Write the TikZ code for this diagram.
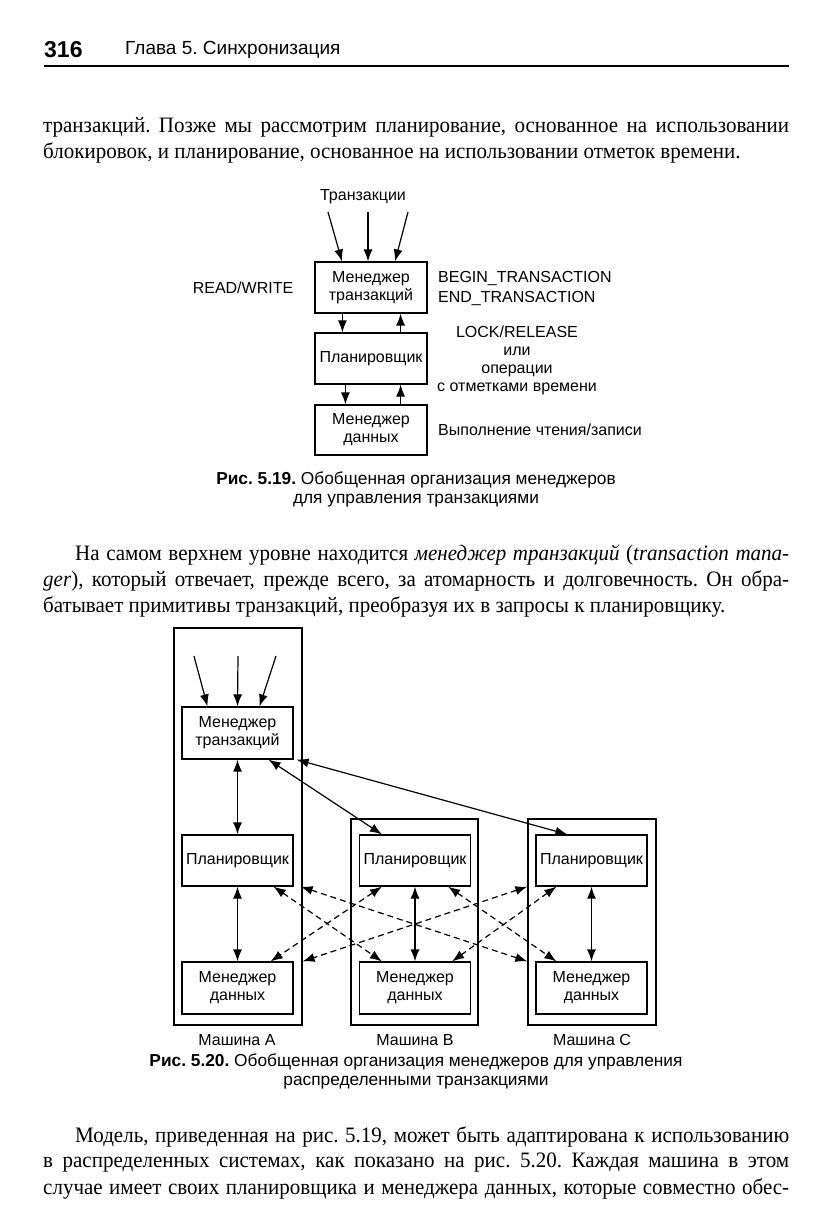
\documentclass[tikz,border=0pt]{standalone}
\usepackage{fontspec}
\setmainfont[FakeStretch=0.955]{Liberation Serif}
\newfontfamily\sansf{Liberation Sans}
\usetikzlibrary{arrows.meta}
\frenchspacing

\begin{document}
\begin{tikzpicture}[x=1pt,y=-1pt]
        \tikzstyle{every node}=[inner sep=0pt]
        \tikzstyle{body}=[anchor=west, font=\fontsize{22}{26}\selectfont]
        \tikzstyle{lbl}=[font=\sansf\fontsize{16}{18}\selectfont, align=center]
        \tikzstyle{figcap}=[font=\sansf\fontsize{17.3}{19}\selectfont, align=center]
        \tikzstyle{box}=[draw, line width=1.2pt, lbl, minimum width=111pt, minimum height=51pt]
        \tikzstyle{machine}=[draw, line width=2.3pt, minimum width=128pt]
        \tikzstyle{arr}=[line width=1.2pt, -{Latex[length=12pt,width=9pt]}]
        \tikzstyle{both}=[line width=1.2pt, {Latex[length=12pt,width=9pt]}-{Latex[length=12pt,width=9pt]}]
        \tikzstyle{dboth}=[both, dash pattern=on 6pt off 4pt]
        \useasboundingbox (0,0) rectangle (834,1229);
        % page head
        \node[anchor=west, font=\sansf\bfseries\fontsize{23}{23}\selectfont] (pg) at (44,50) {316};
        \node[anchor=west, font=\sansf\fontsize{19}{19}\selectfont] (hd) at (125,50) {Глава 5. Синхронизация};
        \draw[line width=1.6pt] (44,66) -- (789,66);
        % text
        \node[body] (t1) at (43,127) {\makebox[746pt][s]{транзакций. Позже мы рассмотрим планирование, основанное на использовании}};
        \node[body] (t2) at (43,153) {блокировок, и планирование, основанное на использовании отметок времени.};
        % fig 5.19
        \node[lbl] (tr) at (363,197) {Транзакции};
        \node[box, minimum width=112pt] (tm) at (371,287.5) {Менеджер\\транзакций};
        \node[box, minimum width=112pt] (sc) at (371,358.5) {Планировщик};
        \node[box, minimum width=112pt, minimum height=50pt] (dm) at (371,430) {Менеджер\\данных};
        \coordinate (i1) at (328,212);
        \coordinate (i2) at (368,212);
        \coordinate (i3) at (408,212);
        \draw[arr] (i1) -- ([xshift=-29pt]tm.north);
        \draw[arr] (i2) -- ([xshift=-3pt]tm.north);
        \draw[arr] (i3) -- ([xshift=24pt]tm.north);
        \draw[arr] ([xshift=28pt]tm.south west) -- ([xshift=28pt]sc.north west);
        \draw[arr] ([xshift=-27pt]sc.north east) -- ([xshift=-27pt]tm.south east);
        \draw[arr] ([xshift=31pt]sc.south west) -- ([xshift=31pt]dm.north west);
        \draw[arr] ([xshift=-27pt]dm.north east) -- ([xshift=-27pt]sc.south east);
        \node[lbl] (rw) at (243,288) {READ/WRITE};
        \node[lbl, anchor=west, align=left] (bt) at (438,288) {BEGIN\_TRANSACTION\\[2pt]END\_TRANSACTION};
        \node[lbl] (lr) at (517,360) {LOCK/RELEASE\\или\\операции\\с отметками времени};
        \node[lbl, anchor=west] (rd) at (438,430) {Выполнение чтения/записи};
        \node[figcap] (c19) at (416,489.5) {\textbf{Рис. 5.19.} Обобщенная организация менеджеров\\для управления транзакциями};
        % text
        \node[body] (t3) at (75,555) {\makebox[714pt][s]{На самом верхнем уровне находится \textit{менеджер транзакций} (\textit{transaction mana-}}};
        \node[body] (t4) at (43,581) {\makebox[746pt][s]{\textit{ger}), который отвечает, прежде всего, за атомарность и долговечность. Он обра-}};
        \node[body] (t5) at (43,607) {батывает примитивы транзакций, преобразуя их в запросы к планировщику.};
        % fig 5.20
        \node[machine, minimum height=397pt] (ma) at (238,826.5) {};
        \node[machine, minimum height=206pt, minimum width=127pt] (mb) at (414.5,922) {};
        \node[machine, minimum height=206pt] (mc) at (592,922) {};
        \node[box, minimum height=52pt] (tma) at (237.5,733) {Менеджер\\транзакций};
        \node[box] (pa) at (237.5,860.5) {Планировщик};
        \node[box] (pb) at (415,860.5) {Планировщик};
        \node[box] (pc) at (591.5,860.5) {Планировщик};
        \node[box, minimum height=52pt] (da) at (237.5,988) {Менеджер\\данных};
        \node[box, minimum height=52pt] (db) at (415,988) {Менеджер\\данных};
        \node[box, minimum height=52pt] (dc) at (591.5,988) {Менеджер\\данных};
        \coordinate (j1) at (194,656);
        \coordinate (j2) at (238,656);
        \coordinate (j3) at (276,656);
        \draw[arr] (j1) -- ([xshift=-30pt]tma.north);
        \draw[arr] (j2) -- (tma.north);
        \draw[arr] (j3) -- ([xshift=22pt]tma.north);
        \draw[both] (tma.south) -- (pa.north);
        \draw[both] ([xshift=-25pt]tma.south east) -- ([xshift=23pt]pb.north west);
        \draw[both] ([xshift=3pt]tma.south east) -- ([xshift=32pt]pc.north west);
        \draw[both] (pa.south) -- (da.north);
        \draw[both] (pb.south) -- (db.north);
        \draw[both] (pc.south) -- (dc.north);
        \draw[dboth] ([xshift=-20pt]pa.south east) -- ([xshift=23pt]db.north west);
        \draw[dboth] ([xshift=7pt]pa.south east) -- ([xshift=-8pt]dc.north west);
        \draw[dboth] ([xshift=23pt]pb.south west) -- ([xshift=-23pt]da.north east);
        \draw[dboth] ([xshift=-8pt]pc.south west) -- ([xshift=9pt]da.north east);
        \draw[dboth] ([xshift=-23pt]pb.south east) -- ([xshift=21pt]dc.north west);
        \draw[dboth] ([xshift=21pt]pc.south west) -- ([xshift=-19pt]db.north east);
        \node[lbl] (la) at (237,1040) {Машина A};
        \node[lbl] (lb) at (415,1040) {Машина B};
        \node[lbl] (lc) at (592,1040) {Машина C};
        \node[figcap] (c20) at (416,1071) {\textbf{Рис. 5.20.} Обобщенная организация менеджеров для управления\\распределенными транзакциями};
        % text
        \node[body] (t6) at (75,1137) {\makebox[714pt][s]{Модель, приведенная на рис. 5.19, может быть адаптирована к использованию}};
        \node[body] (t7) at (43,1163) {\makebox[746pt][s]{в распределенных системах, как показано на рис. 5.20. Каждая машина в этом}};
        \node[body] (t8) at (43,1189) {\makebox[746pt][s]{случае имеет своих планировщика и менеджера данных, которые совместно обес-}};
\end{tikzpicture}
\end{document}
